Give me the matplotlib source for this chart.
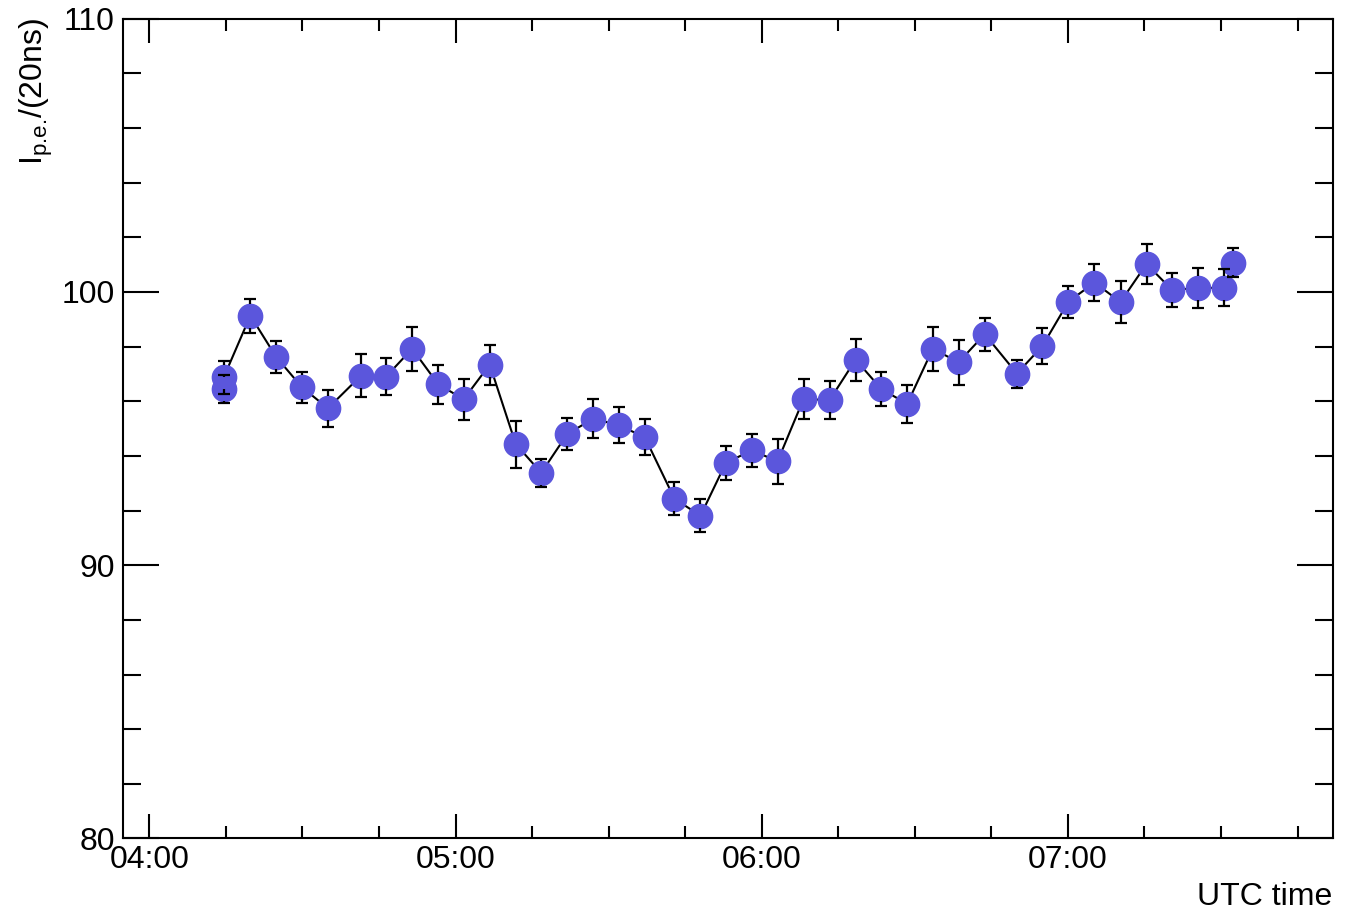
import numpy as np
import pandas as pd
import matplotlib
matplotlib.use('Agg')
import matplotlib.pyplot as plt
import matplotlib.dates as mdates

plt.rcParams['font.family'] = ['Liberation Sans', 'DejaVu Sans']
plt.rcParams['mathtext.fontset'] = 'custom'
plt.rcParams['mathtext.rm'] = 'Liberation Sans'
plt.rcParams['mathtext.it'] = 'Liberation Sans:italic'

# UTC time of each measurement
times = ['04:14:36', '04:14:36', '04:19:48', '04:24:51', '04:29:54', '04:35:00',
         '04:41:27', '04:46:24', '04:51:30', '04:56:36', '05:01:36', '05:06:42',
         '05:11:48', '05:16:48', '05:21:54', '05:27:00', '05:32:00', '05:37:06',
         '05:42:54', '05:48:00', '05:53:00', '05:58:06', '06:03:06', '06:08:12',
         '06:13:18', '06:18:24', '06:23:24', '06:28:30', '06:33:30', '06:38:36',
         '06:43:42', '06:50:00', '06:55:00', '07:00:06', '07:05:12', '07:10:18',
         '07:15:24', '07:20:24', '07:25:24', '07:30:30', '07:32:24']
# I_pe per 20 ns
ipe = [96.45, 96.88, 99.13, 97.62, 96.51, 95.74, 96.93, 96.90, 97.92, 96.62,
       96.07, 97.34, 94.43, 93.38, 94.80, 95.36, 95.12, 94.68, 92.43, 91.81,
       93.75, 94.20, 93.80, 96.08, 96.04, 97.52, 96.45, 95.90, 97.91, 97.43,
       98.45, 97.01, 98.02, 99.64, 100.34, 99.63, 101.02, 100.07, 100.14, 100.15,
       101.07]
ipe_err = [0.50, 0.60, 0.62, 0.58, 0.57, 0.68, 0.79, 0.68, 0.81, 0.71,
           0.75, 0.73, 0.86, 0.52, 0.59, 0.71, 0.66, 0.66, 0.61, 0.60,
           0.62, 0.59, 0.82, 0.74, 0.70, 0.77, 0.63, 0.71, 0.80, 0.82,
           0.60, 0.51, 0.66, 0.59, 0.69, 0.78, 0.72, 0.61, 0.73, 0.68,
           0.52]

t = pd.to_datetime(['2000-01-01 ' + s for s in times])
v = np.array(ipe)
e = np.array(ipe_err)

fig = plt.figure(figsize=(13.55, 9.13), dpi=100)
ax = fig.add_axes([0.0908, 0.0816, 0.8932, 0.8981])

col = '#5b56dc'
ax.plot(t, v, color='black', lw=1.5, zorder=1)
ax.plot(t, v, 'o', ms=17.5, color=col, mec=col, zorder=2)

# error bars drawn outside the marker, ROOT style
gap = 0.44
ax.vlines(t, v + gap, v + e, color='black', lw=1.6, zorder=3)
ax.vlines(t, v - e, v - gap, color='black', lw=1.6, zorder=3)
ax.plot(t, v + e, '_', ms=8, mew=1.6, color='black', zorder=3)
ax.plot(t, v - e, '_', ms=8, mew=1.6, color='black', zorder=3)

ax.set_ylim(80, 110)
ax.set_xlim(pd.Timestamp('2000-01-01 03:54:51'), pd.Timestamp('2000-01-01 07:52:00'))

ax.xaxis.set_major_locator(mdates.HourLocator())
ax.xaxis.set_major_formatter(mdates.DateFormatter('%H:%M'))
ax.xaxis.set_minor_locator(mdates.MinuteLocator(byminute=[15, 30, 45]))
ax.set_yticks([80, 90, 100, 110])
ax.set_yticks(np.arange(80, 111, 2), minor=True)

for s in ax.spines.values():
    s.set_linewidth(1.5)
ax.tick_params(which='both', direction='in', top=True, right=True, width=1.5,
               labelsize=23)
ax.tick_params(axis='x', which='major', length=17.3, pad=5)
ax.tick_params(axis='x', which='minor', length=8.6)
ax.tick_params(axis='y', which='major', length=26, pad=6)
ax.tick_params(axis='y', which='minor', length=13)

fig.text(1332 / 1355, 1 / 913, 'UTC time', ha='right', va='bottom', fontsize=23)
ylab = fig.text(36 / 1355, 1 - 18 / 913, r'I$_{\text{p.e.}}$/(20ns)', rotation=90,
                ha='center', va='top', fontsize=23)
try:
    fig.canvas.draw()
except Exception:
    ylab.set_text(r'I$_{\rm p.e.}$/(20ns)')

fig.savefig('out.png', dpi=100)
